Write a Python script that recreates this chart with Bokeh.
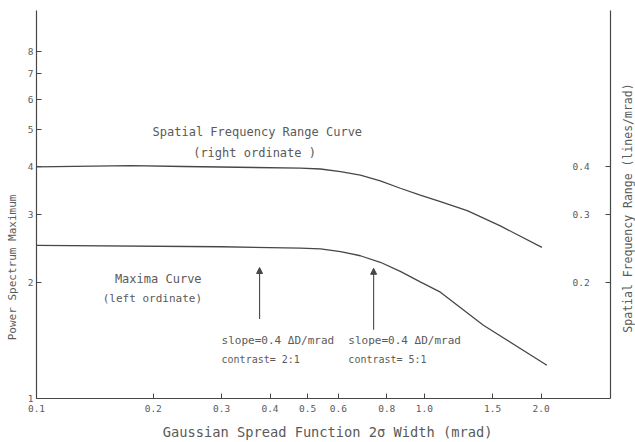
from math import pi
from bokeh.plotting import figure
from bokeh.layouts import row
from bokeh.core.properties import value
from bokeh.models import (Range1d, LogScale, LogAxis, FixedTicker, Arrow,
                          NormalHead, Label)
from bokeh.embed import file_html
from bokeh.resources import INLINE

# ---- data ----
x_ticks = [0.1, 0.2, 0.3, 0.4, 0.5, 0.6, 0.8, 1.0, 1.5, 2.0]
x_tick_labels = ["0.1", "0.2", "0.3", "0.4", "0.5", "0.6", "0.8", "1.0", "1.5", "2.0"]
left_ticks = [1, 2, 3, 4, 5, 6, 7, 8]
left_tick_labels = ["1", "2", "3", "4", "5", "6", "7", "8"]
right_ticks = [0.2, 0.3, 0.4]
right_tick_labels = ["0.2", "0.3", "0.4"]

# Spatial frequency range curve (right ordinate, lines/mrad)
sfr_x = [0.1, 0.175, 0.239, 0.479, 0.540, 0.608, 0.684, 0.770, 0.867, 0.976, 1.10, 1.29, 1.57, 2.01]
sfr_y = [0.400, 0.403, 0.401, 0.397, 0.395, 0.389, 0.381, 0.368, 0.352, 0.338, 0.325, 0.308, 0.281, 0.247]

# Maxima curve (left ordinate, power spectrum maximum)
max_x = [0.1, 0.3, 0.479, 0.540, 0.608, 0.684, 0.770, 0.867, 0.976, 1.10, 1.42, 2.07]
max_y = [2.50, 2.48, 2.46, 2.45, 2.41, 2.35, 2.26, 2.14, 2.01, 1.89, 1.55, 1.22]

# annotation arrows (x position, from, to) in left-ordinate units
arrow_x = [0.376, 0.74]
arrow_y0 = [1.61, 1.51]
arrow_y1 = [2.19, 2.18]

FONT = "DejaVu Sans Mono"
INK = "#474747"
TXT = "#5a5a5a"
NB = "\u00a0"

p = figure(width=620, height=442, x_axis_type="log", y_axis_type="log",
           x_range=Range1d(0.1, 3.02), y_range=Range1d(1, 10.2),
           output_backend="svg", toolbar_location=None,
           min_border_left=36, min_border_right=10, min_border_top=10,
           min_border_bottom=44)
p.extra_y_ranges = {"right": Range1d(0.1, 1.02)}
p.extra_y_scales = {"right": LogScale()}
p.outline_line_color = None
p.xgrid.visible = False
p.ygrid.visible = False
p.background_fill_color = "white"
p.border_fill_color = "white"

def style_axis(ax, ticks, labels):
    ax.ticker = FixedTicker(ticks=ticks)
    ax.major_label_overrides = {t: l for t, l in zip(ticks, labels)}
    ax.axis_line_color = INK
    ax.axis_line_width = 1.2
    ax.major_tick_line_color = INK
    ax.major_tick_in = 5
    ax.major_tick_out = 0
    ax.minor_tick_line_color = None
    ax.major_label_text_font = FONT
    ax.major_label_text_font_size = "9.5px"
    ax.major_label_text_color = TXT
    ax.axis_label_text_font = FONT
    ax.axis_label_text_font_style = "normal"
    ax.axis_label_text_color = TXT

xa = p.xaxis[0]
style_axis(xa, x_ticks, x_tick_labels)
xa.major_label_standoff = 6
xa.axis_label = NB * 2 + "Gaussian Spread Function  2σ Width (mrad)"
xa.axis_label_text_font_size = "13.7px"
xa.axis_label_standoff = 9

ya = p.yaxis[0]
style_axis(ya, left_ticks, left_tick_labels)
ya.major_label_standoff = 3
ya.axis_label = "Power Spectrum  Maximum" + NB * 18
ya.axis_label_text_font_size = "11px"
ya.axis_label_standoff = 6

ra = LogAxis(y_range_name="right")
style_axis(ra, right_ticks, right_tick_labels)
ra.major_label_standoff = -38
p.add_layout(ra, "right")

# curves
p.line(sfr_x, sfr_y, y_range_name="right", line_color=INK, line_width=1.3)
p.line(max_x, max_y, line_color=INK, line_width=1.3)

for ax_, y0, y1 in zip(arrow_x, arrow_y0, arrow_y1):
    p.add_layout(Arrow(end=NormalHead(size=6, fill_color=INK, line_color=INK),
                       x_start=ax_, y_start=y0, x_end=ax_, y_end=y1,
                       line_color=INK, line_width=1.1))

def lab(x, y, text, size, align="center"):
    p.add_layout(Label(x=x, y=y, text=text, text_font=FONT,
                       text_font_size=size, text_color=TXT,
                       text_align=align, text_baseline="middle"))

lab(0.371, 4.94, "Spatial Frequency Range Curve", "12px")
lab(0.365, 4.35, "(right ordinate )", "12px")
lab(0.206, 2.05, "Maxima Curve", "12px")
lab(0.199, 1.82, "(left ordinate)", "11px")
lab(0.300, 1.415, "slope=0.4 ΔD/mrad", "11px", align="left")
lab(0.300, 1.263, "contrast= 2:1", "10px", align="left")
lab(0.637, 1.415, "slope=0.4 ΔD/mrad", "11px", align="left")
lab(0.637, 1.263, "contrast= 5:1", "10px", align="left")

# narrow strip carrying the right-ordinate title (reads bottom to top)
p2 = figure(width=15, height=442, x_range=Range1d(0, 15), y_range=Range1d(0, 442),
            output_backend="svg", toolbar_location=None,
            x_axis_location=None, y_axis_location=None,
            min_border_left=0, min_border_right=0, min_border_top=0,
            min_border_bottom=0)
p2.outline_line_color = None
p2.xgrid.visible = False
p2.ygrid.visible = False
p2.background_fill_color = "white"
p2.border_fill_color = "white"
p2.text(x=[7.5], y=[217], text=["Spatial Frequency Range (lines/mrad)"],
        angle=pi / 2, text_align="center", text_baseline="middle",
        text_font=value(FONT), text_font_size="11.5px", text_color=TXT)

layout = row(p, p2, spacing=0)
open("out.html", "w").write(file_html(layout, INLINE))
